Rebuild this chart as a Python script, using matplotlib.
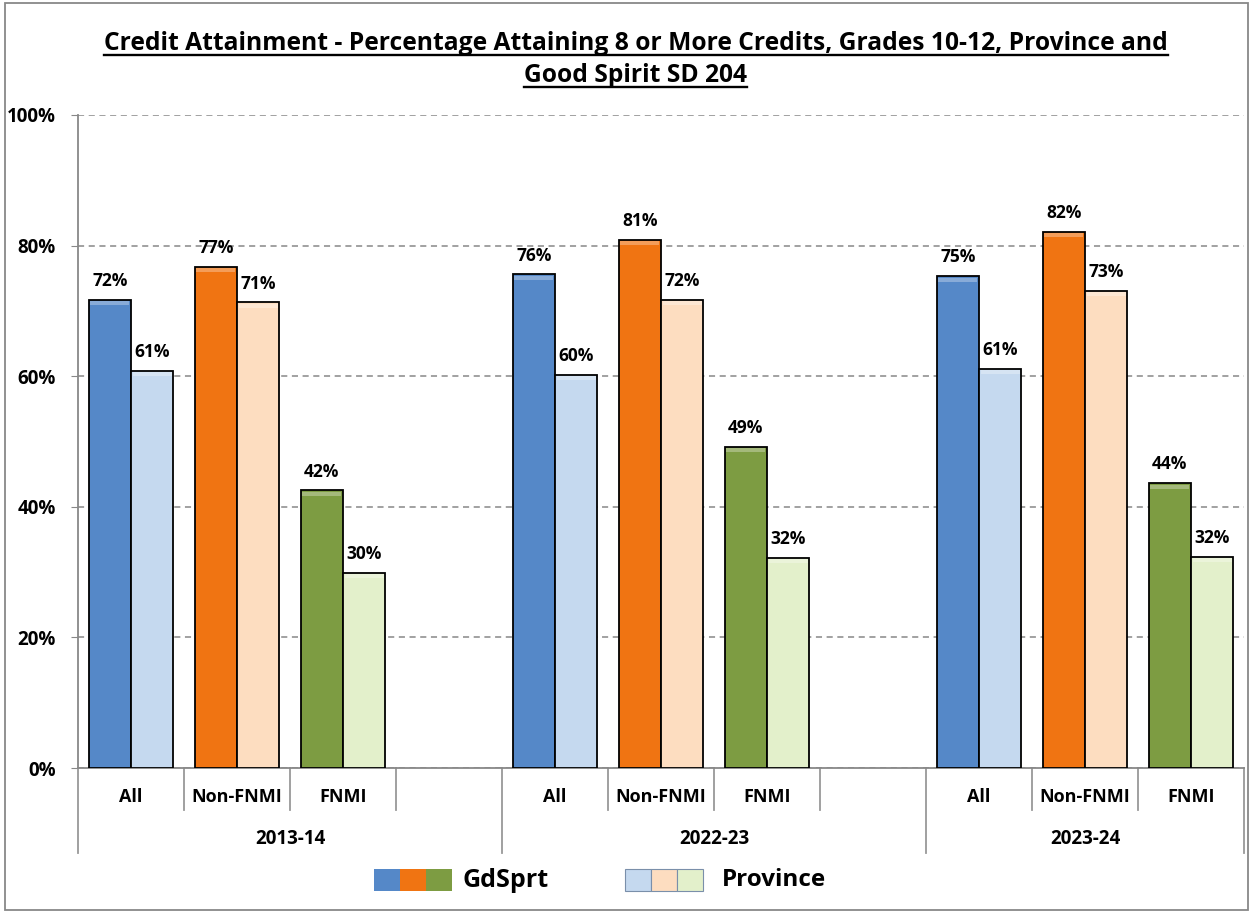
import matplotlib
matplotlib.use("Agg")
import matplotlib.pyplot as plt
from matplotlib.patches import Rectangle
from matplotlib.lines import Line2D

plt.rcParams["font.family"] = ["Open Sans", "DejaVu Sans"]
plt.rcParams["font.weight"] = "bold"

years = ["2013-14", "2022-23", "2023-24"]
groups = ["All", "Non-FNMI", "FNMI"]
gdsprt = [[71.7, 76.7, 42.5], [75.6, 80.9, 49.2], [75.3, 82.1, 43.6]]
province = [[60.8, 71.3, 29.9], [60.2, 71.7, 32.2], [61.1, 73.1, 32.3]]
gd_colors = ["#5588C8", "#F07412", "#7D9C42"]
prov_colors = ["#C5D9EF", "#FDDDC0", "#E3F0CB"]
yticks = [0, 20, 40, 60, 80, 100]

fig = plt.figure(figsize=(12.51, 9.13), dpi=100)
ax = fig.add_axes([78 / 1251, 1 - 768 / 913, 1166 / 1251, (768 - 115) / 913])

n_slots = 11
bw = 0.4
for yi, yr in enumerate(years):
    for gi, g in enumerate(groups):
        c = yi * 4 + gi + 0.5
        for off, val, col in [(-bw / 2, gdsprt[yi][gi], gd_colors[gi]),
                              (bw / 2, province[yi][gi], prov_colors[gi])]:
            ax.bar(c + off, val, width=bw, color=col, edgecolor="black",
                   linewidth=1.3, zorder=3)
            # light strip at the top of each bar
            ax.bar(c + off, 0.6, bottom=val - 0.8, width=bw * 0.92,
                   color="white", alpha=0.3, linewidth=0, zorder=4)
            ax.text(c + off, val + 1.5, f"{val:.0f}%", ha="center", va="bottom",
                    fontsize=12.5, fontweight="bold", zorder=5)

ax.set_xlim(0, n_slots)
ax.set_ylim(0, 100)
ax.set_yticks(yticks)
ax.set_yticklabels([f"{t}%" for t in yticks], fontsize=13.5, fontweight="bold")
ax.tick_params(axis="y", length=5, color="#888888", pad=11)
ax.set_xticks([])
ax.yaxis.grid(True, linestyle=(0, (4, 3)), color="#888888", linewidth=1.1, zorder=0)
for s in ["top", "right"]:
    ax.spines[s].set_visible(False)
ax.spines["left"].set_color("#888888")
ax.spines["bottom"].set_color("#888888")
ax.spines["left"].set_linewidth(1.3)
ax.spines["bottom"].set_linewidth(1.3)

# category axis: inner labels, separators and year labels
tr = ax.get_xaxis_transform()
px = 1.0 / (768 - 115)
for yi, yr in enumerate(years):
    start = yi * 4
    n = 4 if yi < len(years) - 1 else 3
    for gi, g in enumerate(groups):
        ax.text(start + gi + 0.5, -29 * px, g, transform=tr, ha="center",
                va="center", fontsize=13, fontweight="bold")
    for k in range(1, n):
        ax.add_line(Line2D([start + k, start + k], [0, -42 * px], transform=tr,
                           color="#999999", lw=1.3, clip_on=False))
    ax.text(start + n / 2, -71 * px, yr, transform=tr, ha="center",
            va="center", fontsize=13.5, fontweight="bold")
for x in [0, 4, 8, 11]:
    ax.add_line(Line2D([x, x], [0, -85 * px], transform=tr,
                       color="#999999", lw=1.3, clip_on=False))

# title with underline
tx = 636 / 1251
t1 = fig.text(tx, 1 - 44 / 913, "Credit Attainment - Percentage Attaining 8 or More Credits, Grades 10-12, Province and",
              ha="center", va="center", fontsize=17.7, fontweight="bold")
t2 = fig.text(tx, 1 - 76 / 913, "Good Spirit SD 204", ha="center", va="center",
              fontsize=17.7, fontweight="bold")
fig.canvas.draw()
r = fig.canvas.get_renderer()
for t in (t1, t2):
    bb = t.get_window_extent(r).transformed(fig.transFigure.inverted())
    fig.add_artist(Line2D([bb.x0, bb.x1], [bb.y0 + 0.002, bb.y0 + 0.002],
                          transform=fig.transFigure, color="black", lw=1.7))

# legend built by hand
ly = 1 - 880 / 913
sq_w = 26 / 1251
sq_h = 22 / 913
for i, col in enumerate(gd_colors):
    fig.add_artist(Rectangle((374 / 1251 + i * sq_w, ly - sq_h / 2), sq_w, sq_h,
                             transform=fig.transFigure, facecolor=col, edgecolor="none"))
fig.text(463 / 1251, ly, "GdSprt", ha="left", va="center", fontsize=18, fontweight="bold")
for i, col in enumerate(prov_colors):
    fig.add_artist(Rectangle((625 / 1251 + i * sq_w, ly - sq_h / 2), sq_w, sq_h,
                             transform=fig.transFigure, facecolor=col,
                             edgecolor="#7A8FAA", lw=0.8))
fig.text(722 / 1251, ly, "Province", ha="left", va="center", fontsize=17.5, fontweight="bold")

# outer frame
fig.add_artist(Rectangle((5 / 1251, 3 / 913), 1243 / 1251, 907 / 913,
                         transform=fig.transFigure, fill=False,
                         edgecolor="#888888", lw=1.3))

fig.savefig("out.png", dpi=100)
plt.close(fig)
